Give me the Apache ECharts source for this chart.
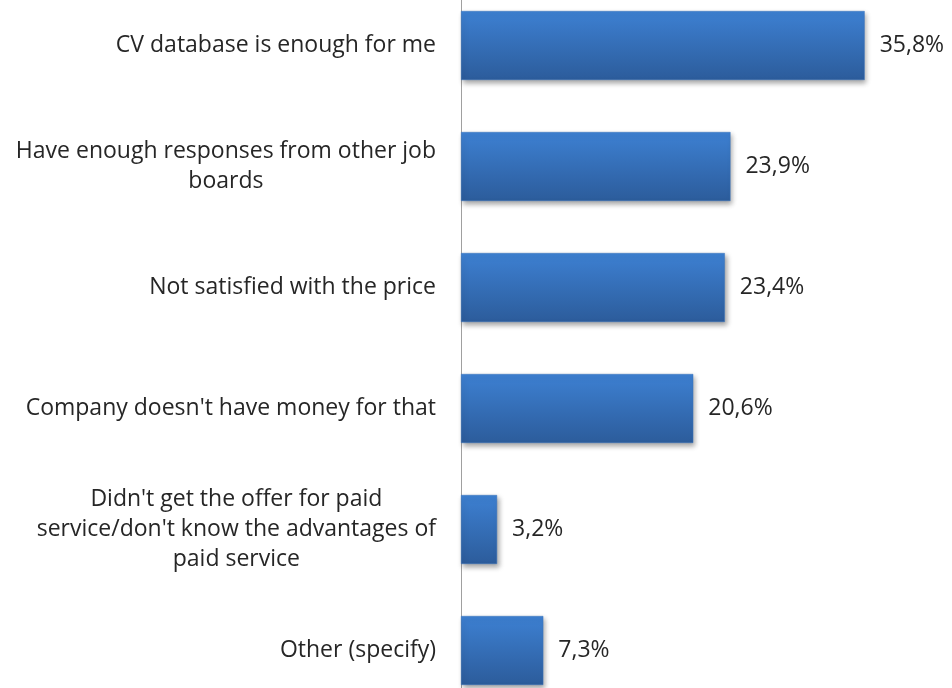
<!DOCTYPE html>
<html>
<head>
<meta charset="utf-8">
<script src="https://cdn.jsdelivr.net/npm/echarts@6/dist/echarts.min.js"></script>
<style>
  html, body { margin: 0; padding: 0; background: #fff; }
  #chart { width: 952px; height: 688px; }
</style>
</head>
<body>
<div id="chart"></div>
<script>
// categories top to bottom
var categories = [
  "CV database is enough for me",
  "Have enough responses from other job\nboards",
  "Not satisfied with the price",
  "Company doesn't have money for that",
  "Didn't get the offer for paid\nservice/don't know the advantages of\npaid service",
  "Other (specify)"
];
var values = [35.8, 23.9, 23.4, 20.6, 3.2, 7.3];

var chart = echarts.init(document.getElementById('chart'));

var option = {
  animation: false,
  backgroundColor: '#ffffff',
  grid: {
    left: 461,
    right: 40,
    top: -15,
    bottom: -23,
    outerBoundsMode: 'none'
  },
  xAxis: {
    type: 'value',
    min: 0,
    max: 40,
    show: false
  },
  yAxis: {
    type: 'category',
    inverse: true,
    data: categories,
    axisLine: { show: true, lineStyle: { color: '#a0a0a0', width: 1 } },
    axisTick: { show: false },
    axisLabel: {
      margin: 25,
      formatter: function (v) {
        return v.split('\n').map(function (l) { return '{c|' + l + '}'; }).join('\n');
      },
      rich: {
        c: {
          align: 'center',
          fontFamily: "'Open Sans', sans-serif",
          fontSize: 23,
          lineHeight: 30,
          color: '#262626'
        }
      }
    }
  },
  series: [{
    type: 'bar',
    data: values,
    barWidth: 69,
    itemStyle: {
      color: {
        type: 'linear', x: 0, y: 0, x2: 0, y2: 1,
        colorStops: [
          { offset: 0, color: '#3d80d2' },
          { offset: 1, color: '#2c5c9b' }
        ]
      },
      borderColor: '#3a74bd',
      borderWidth: 0.5,
      shadowColor: 'rgba(0,0,0,0.35)',
      shadowBlur: 5,
      shadowOffsetX: 2,
      shadowOffsetY: 3
    },
    label: {
      show: true,
      position: 'right',
      distance: 15,
      fontFamily: "'Open Sans', sans-serif",
      fontSize: 23,
      color: '#262626',
      formatter: function (p) {
        return p.value.toFixed(1).replace('.', ',') + '%';
      }
    }
  }]
};

chart.setOption(option);
</script>
</body>
</html>
